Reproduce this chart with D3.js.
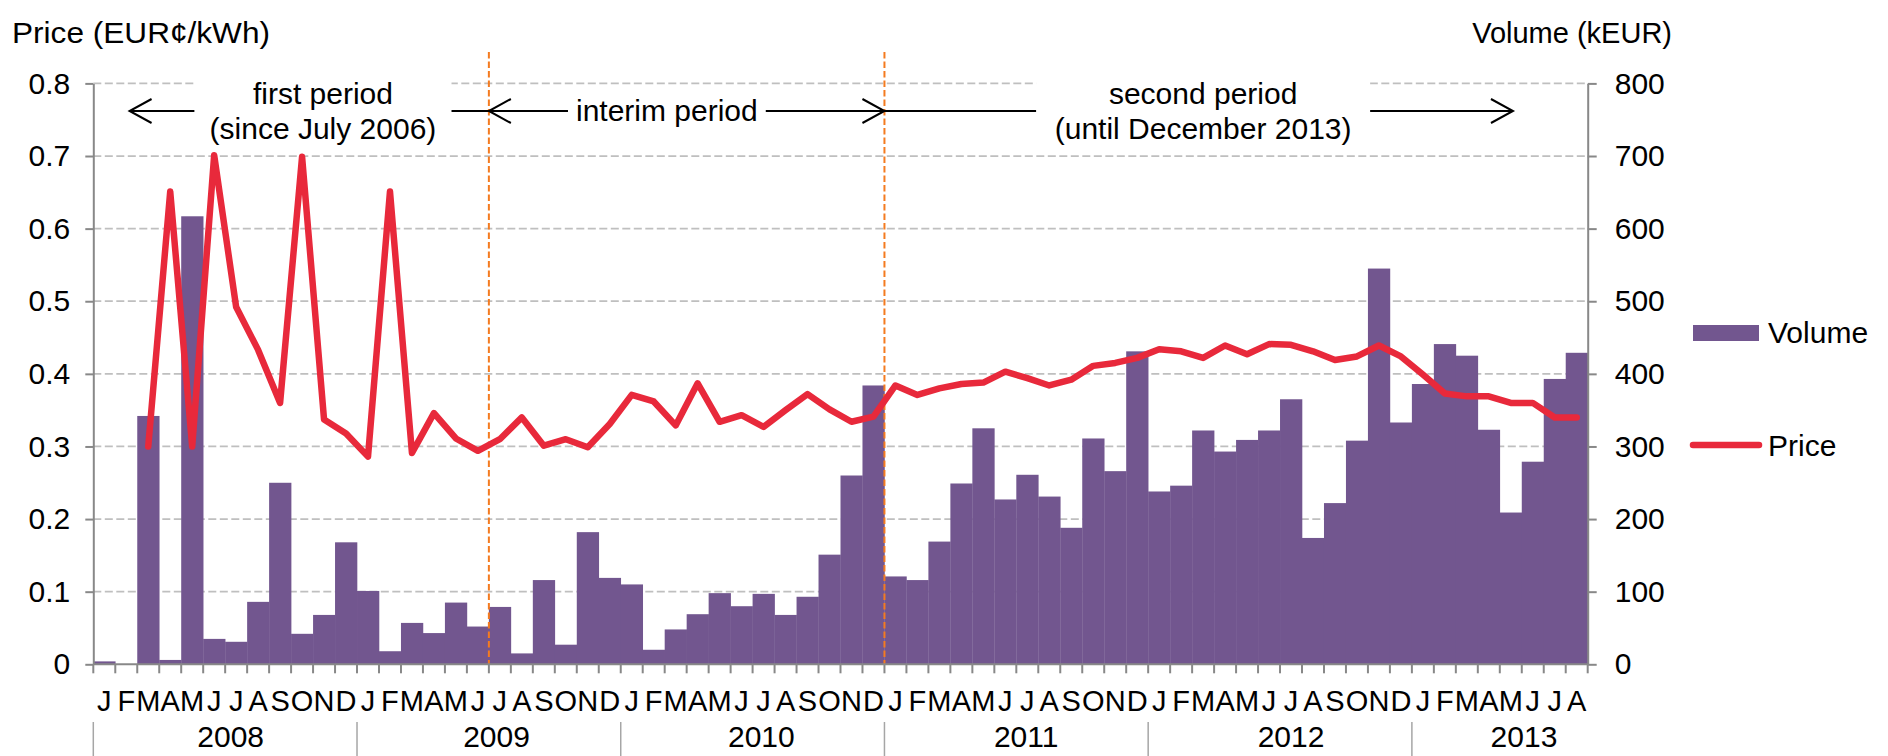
<!DOCTYPE html>
<html lang="en">
<head>
<meta charset="utf-8">
<title>Price and volume by month</title>
<script src="https://cdn.jsdelivr.net/npm/d3@7/dist/d3.min.js"></script>
<style>
  body { margin: 0; background: #fff; }
  text { font-family: "Liberation Sans", Arial, sans-serif; fill: #000; }
</style>
</head>
<body>
<script>
// month letters and years (Jan 2008 .. Aug 2013)
var monthLetters = ["J","F","M","A","M","J","J","A","S","O","N","D"];
var years = ["2008","2009","2010","2011","2012","2013"];
var monthsInYear = [12, 12, 12, 12, 12, 8];
// where each year label sits, in month units from Jan 2008
var yearLabelAt = [6.25, 18.35, 30.4, 42.45, 54.5, 65.1];

// volume in kEUR, one per month
var volume = [
  4, 0, 342, 6, 617, 35, 31, 86, 250, 42, 68, 168,
  101, 18, 57, 43, 85, 52, 79, 15, 116, 27, 182, 119,
  110, 20, 48, 69, 98, 80, 97, 68, 93, 151, 260, 384,
  121, 116, 169, 249, 325, 227, 261, 231, 188, 311, 266, 431,
  238, 246, 322, 293, 309, 322, 365, 174, 222, 308, 545, 333,
  386, 441, 425, 323, 209, 279, 393, 429
];

// price in EUR cent / kWh, one per month (no price for Jan/Feb 2008)
var price = [
  null, null, 0.300, 0.651, 0.300, 0.701, 0.492, 0.433, 0.360, 0.699, 0.337, 0.318,
  0.286, 0.651, 0.291, 0.346, 0.311, 0.294, 0.310, 0.340, 0.301, 0.310, 0.299, 0.331,
  0.371, 0.362, 0.329, 0.387, 0.334, 0.343, 0.327, 0.350, 0.372, 0.351, 0.334, 0.341,
  0.384, 0.371, 0.380, 0.386, 0.388, 0.403, 0.394, 0.384, 0.392, 0.411, 0.415, 0.422,
  0.434, 0.431, 0.422, 0.439, 0.427, 0.441, 0.440, 0.431, 0.419, 0.424, 0.439, 0.424,
  0.399, 0.373, 0.369, 0.369, 0.360, 0.360, 0.340, 0.340
];

var priceTicks = [0, 0.1, 0.2, 0.3, 0.4, 0.5, 0.6, 0.7, 0.8];
var volumeTicks = [0, 100, 200, 300, 400, 500, 600, 700, 800];

// month index where the interim and the second period start
var periodStarts = [18, 36];

// annotation arrows, in month units
var arrowSegs = [
  {from: 1.65, to: 4.6, head: "start"},
  {from: 16.3, to: 18, head: null},
  {from: 18, to: 21.6, head: "start"},
  {from: 30.6, to: 36, head: "end"},
  {from: 36, to: 42.9, head: null},
  {from: 58.1, to: 64.6, head: "end"}
];
var periodNotes = [
  {at: 10.45, box: [4.6, 16.3], lines: ["first period", "(since July 2006)"]},
  {at: 26.1, box: null, lines: ["interim period"]},
  {at: 50.5, box: [42.9, 58.1], lines: ["second period", "(until December 2013)"]}
];

var w = 1888, h = 756;
var plotL = 93.3, plotR = 1587.7, plotT = 83.4, plotB = 664.3;
var purple = "#72568F", red = "#E8293B", orange = "#F47B20", grey = "#888888";

var categories = [];
years.forEach(function(y, yi) {
  for (var m = 0; m < monthsInYear[yi]; m++) categories.push(y + "-" + (m + 1));
});

var svg = d3.select("body").append("svg")
  .attr("width", w)
  .attr("height", h);

var x = d3.scaleBand().domain(d3.range(categories.length)).range([plotL, plotR]).padding(0);
var xm = d3.scaleLinear().domain([0, categories.length]).range([plotL, plotR]); // month units
var yPrice = d3.scaleLinear().domain([0, 0.8]).range([plotB, plotT]);
var yVol = d3.scaleLinear().domain([0, 800]).range([plotB, plotT]);

// gridlines
svg.append("g").selectAll("line")
  .data(priceTicks.filter(function(d) { return d > 0; }))
  .enter().append("line")
  .attr("x1", plotL).attr("x2", plotR)
  .attr("y1", function(d) { return yPrice(d); })
  .attr("y2", function(d) { return yPrice(d); })
  .attr("stroke", "#BFBFBF")
  .attr("stroke-width", 1.75)
  .attr("stroke-dasharray", "8,3.5");

// bars
svg.append("g").selectAll("rect")
  .data(volume)
  .enter().append("rect")
  .attr("x", function(d, i) { return x(i); })
  .attr("y", function(d) { return yVol(d); })
  .attr("width", x.bandwidth() + 0.3)
  .attr("height", function(d) { return plotB - yVol(d); })
  .attr("fill", purple);

// period boundaries
svg.append("g").selectAll("line")
  .data(periodStarts)
  .enter().append("line")
  .attr("x1", function(d) { return xm(d); })
  .attr("x2", function(d) { return xm(d); })
  .attr("y1", 52).attr("y2", plotB)
  .attr("stroke", orange)
  .attr("stroke-width", 2)
  .attr("stroke-dasharray", "6.5,3");

// price line
var line = d3.line()
  .defined(function(d) { return d !== null; })
  .x(function(d, i) { return x(i) + x.bandwidth() / 2; })
  .y(function(d) { return yPrice(d); });

svg.append("path")
  .datum(price)
  .attr("d", line)
  .attr("fill", "none")
  .attr("stroke", red)
  .attr("stroke-width", 6.5)
  .attr("stroke-linejoin", "round")
  .attr("stroke-linecap", "round");

// axes
var leftAxis = d3.axisLeft(yPrice)
  .tickValues(priceTicks)
  .tickSize(8).tickSizeOuter(0).tickPadding(15)
  .tickFormat(function(d) { return d === 0 ? "0" : d.toFixed(1); });
var gl = svg.append("g").attr("transform", "translate(" + plotL + ",0)").call(leftAxis);

var rightAxis = d3.axisRight(yVol)
  .tickValues(volumeTicks)
  .tickSize(9).tickSizeOuter(0).tickPadding(18);
var gr = svg.append("g").attr("transform", "translate(" + plotR + ",0)").call(rightAxis);

[gl, gr].forEach(function(g) {
  g.select(".domain").attr("stroke", grey).attr("stroke-width", 2);
  g.selectAll(".tick line").attr("stroke", grey).attr("stroke-width", 2);
  g.selectAll(".tick text")
    .attr("font-size", 30)
    .attr("font-family", "Liberation Sans, Arial, sans-serif")
    .attr("fill", "#000");
});

// category axis
svg.append("line")
  .attr("x1", plotL).attr("x2", plotR)
  .attr("y1", plotB).attr("y2", plotB)
  .attr("stroke", grey).attr("stroke-width", 2);

svg.append("g").selectAll("line")
  .data(d3.range(categories.length + 1))
  .enter().append("line")
  .attr("x1", function(d) { return xm(d); })
  .attr("x2", function(d) { return xm(d); })
  .attr("y1", plotB).attr("y2", plotB + 9)
  .attr("stroke", grey).attr("stroke-width", 2);

svg.append("g").selectAll("text")
  .data(categories)
  .enter().append("text")
  .attr("x", function(d, i) { return x(i) + x.bandwidth() / 2; })
  .attr("y", 711)
  .attr("text-anchor", "middle")
  .attr("font-size", 29)
  .text(function(d) { return monthLetters[+d.split("-")[1] - 1]; });

var yearStart = [];
var acc = 0;
monthsInYear.forEach(function(n) { yearStart.push(acc); acc += n; });

svg.append("g").selectAll("line")
  .data(yearStart)
  .enter().append("line")
  .attr("x1", function(d) { return xm(d); })
  .attr("x2", function(d) { return xm(d); })
  .attr("y1", 722).attr("y2", h)
  .attr("stroke", "#A6A6A6").attr("stroke-width", 1.5);

svg.append("g").selectAll("text")
  .data(years)
  .enter().append("text")
  .attr("x", function(d, i) { return xm(yearLabelAt[i]); })
  .attr("y", 747)
  .attr("text-anchor", "middle")
  .attr("font-size", 30)
  .text(function(d) { return d; });

// axis titles
svg.append("text")
  .attr("x", 12).attr("y", 43)
  .attr("font-size", 29)
  .attr("textLength", 258)
  .attr("lengthAdjust", "spacingAndGlyphs")
  .text("Price (EUR\u00A2/kWh)");
svg.append("text")
  .attr("x", 1672).attr("y", 43)
  .attr("text-anchor", "end")
  .attr("font-size", 29)
  .text("Volume (kEUR)");

// period annotations
var ann = svg.append("g");
periodNotes.forEach(function(p) {
  if (p.box) {
    ann.append("rect")
      .attr("x", xm(p.box[0])).attr("y", 72)
      .attr("width", xm(p.box[1]) - xm(p.box[0])).attr("height", 78)
      .attr("fill", "#fff");
  }
  var ys = p.lines.length === 2 ? [104, 139] : [121];
  p.lines.forEach(function(t, i) {
    ann.append("text")
      .attr("x", xm(p.at)).attr("y", ys[i])
      .attr("text-anchor", "middle")
      .attr("font-size", 30)
      .text(t);
  });
});

var arrowY = 111;
arrowSegs.forEach(function(s) {
  var x1 = xm(s.from), x2 = xm(s.to);
  ann.append("line")
    .attr("x1", x1).attr("x2", x2)
    .attr("y1", arrowY).attr("y2", arrowY)
    .attr("stroke", "#000").attr("stroke-width", 2);
  if (s.head) {
    var tip = s.head === "start" ? x1 : x2;
    var dir = s.head === "start" ? 1 : -1;
    ann.append("path")
      .attr("d", "M" + (tip + dir * 22) + "," + (arrowY - 12) + "L" + tip + "," + arrowY + "L" + (tip + dir * 22) + "," + (arrowY + 12))
      .attr("fill", "none")
      .attr("stroke", "#000").attr("stroke-width", 2);
  }
});

// legend
var lg = svg.append("g");
lg.append("rect")
  .attr("x", 1693).attr("y", 325)
  .attr("width", 66).attr("height", 16)
  .attr("fill", purple);
lg.append("text")
  .attr("x", 1768).attr("y", 343)
  .attr("font-size", 30)
  .text("Volume");
lg.append("line")
  .attr("x1", 1693).attr("x2", 1759)
  .attr("y1", 445).attr("y2", 445)
  .attr("stroke", red).attr("stroke-width", 6.5)
  .attr("stroke-linecap", "round");
lg.append("text")
  .attr("x", 1768).attr("y", 456)
  .attr("font-size", 30)
  .text("Price");
</script>
</body>
</html>
